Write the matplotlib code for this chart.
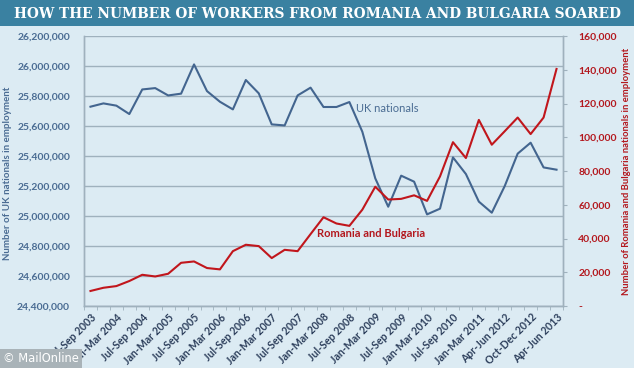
import matplotlib.pyplot as plt
from matplotlib.ticker import FuncFormatter

# quarters on the x axis (one point each)
quarters = ['Jul-Sep 2003', 'Oct-Dec 2003', 'Jan-Mar 2004', 'Apr-Jun 2004', 'Jul-Sep 2004',
            'Oct-Dec 2004', 'Jan-Mar 2005', 'Apr-Jun 2005', 'Jul-Sep 2005', 'Oct-Dec 2005',
            'Jan-Mar 2006', 'Apr-Jun 2006', 'Jul-Sep 2006', 'Oct-Dec 2006', 'Jan-Mar 2007',
            'Apr-Jun 2007', 'Jul-Sep 2007', 'Oct-Dec 2007', 'Jan-Mar 2008', 'Apr-Jun 2008',
            'Jul-Sep 2008', 'Oct-Dec 2008', 'Jan-Mar 2009', 'Apr-Jun 2009', 'Jul-Sep 2009',
            'Oct-Dec 2009', 'Jan-Mar 2010', 'Apr-Jun 2010', 'Jul-Sep 2010', 'Oct-Dec 2010',
            'Jan-Mar 2011', 'Jan-Mar 2012', 'Apr-Jun 2012', 'Jul-Sep 2012', 'Oct-Dec 2012',
            'Jan-Mar 2013', 'Apr-Jun 2013']

# UK nationals in employment (left axis)
uk = [25729000, 25751000, 25736000, 25680000, 25844000, 25853000, 25804000, 25816000,
      26011000, 25833000, 25762000, 25711000, 25907000, 25818000, 25611000, 25604000,
      25804000, 25856000, 25727000, 25727000, 25760000, 25562000, 25251000, 25062000,
      25269000, 25229000, 25011000, 25049000, 25391000, 25280000, 25096000, 25022000,
      25200000, 25416000, 25489000, 25324000, 25309000]

# Romania and Bulgaria nationals in employment (right axis)
rb = [8900, 10800, 11800, 14800, 18500, 17500, 19100, 25600, 26400, 22500, 21700, 32500,
      36300, 35500, 28400, 33300, 32500, 42600, 52600, 48900, 47500, 57100, 70700, 63100,
      63500, 65600, 62300, 76800, 97100, 87700, 110300, 95600, 103600, 111700, 101900,
      111700, 140500]

left_ticks = [24400000, 24600000, 24800000, 25000000, 25200000, 25400000, 25600000,
              25800000, 26000000, 26200000]
right_ticks = [0, 20000, 40000, 60000, 80000, 100000, 120000, 140000, 160000]

bg = '#dcebf3'
blue = '#43658f'
red = '#c1161c'
blue_txt = '#4a6c93'
red_txt = '#b3171d'
grid_c = '#9fb1bd'

fig = plt.figure(figsize=(6.34, 3.68), dpi=100, facecolor=bg)

# title bar
fig.patches.append(plt.Rectangle((0, 0.928), 1, 0.072, transform=fig.transFigure,
                                 facecolor='#3a81a1', edgecolor='none', zorder=0))
fig.text(0.5, 0.963, 'HOW THE NUMBER OF WORKERS FROM ROMANIA AND BULGARIA SOARED',
         ha='center', va='center', color='white', fontsize=9.9, fontweight='bold',
         family='DejaVu Serif')

ax = fig.add_axes([0.1325, 0.1685, 0.7555, 0.7335])
ax.set_facecolor(bg)
ax2 = ax.twinx()

x = list(range(len(quarters)))
ax.plot(x, uk, color=blue, lw=1.5, zorder=3)
ax2.plot(x, rb, color=red, lw=1.5, zorder=3)

ax.set_xlim(-0.5, len(quarters) - 0.5)
ax.set_ylim(24400000, 26200000)
ax2.set_ylim(0, 160000)

ax.set_yticks(left_ticks)
ax.yaxis.set_major_formatter(FuncFormatter(lambda v, p: f'{int(v):,}'))
ax2.set_yticks(right_ticks)
ax2.yaxis.set_major_formatter(FuncFormatter(lambda v, p: '-' if v == 0 else f'{int(v):,}'))

ax.grid(axis='y', color=grid_c, lw=1)
ax.set_axisbelow(True)

# category labels every other quarter, tick marks between categories
ax.set_xticks(x[::2])
ax.set_xticklabels(quarters[::2], rotation=45, ha='right', rotation_mode='anchor',
                   fontsize=7.6, fontweight='bold', color='#2d3f5c', family='Lato')
ax.set_xticks([i - 0.5 for i in range(len(quarters) + 1)], minor=True)
ax.tick_params(axis='x', which='major', length=0, pad=4)
ax.tick_params(axis='x', which='minor', length=3, color=grid_c, direction='out')

ax.tick_params(axis='y', length=0, labelsize=7.5, labelcolor=blue_txt, pad=10)
ax2.tick_params(axis='y', length=3, color=grid_c, labelsize=7.5, labelcolor=red_txt, pad=8)
for lab in ax.get_yticklabels():
    lab.set_fontweight('bold'); lab.set_family('Lato')
for lab in ax2.get_yticklabels():
    lab.set_fontweight('bold'); lab.set_family('Lato')

for a in (ax, ax2):
    a.spines['top'].set_visible(False)
    for s in ('left', 'right', 'bottom'):
        a.spines[s].set_color(grid_c)
        a.spines[s].set_linewidth(1)

ax.set_ylabel('Number of UK nationals in employment', color=blue_txt, fontsize=7,
              fontweight='bold', family='Lato')
ax.yaxis.set_label_coords(-0.15, 0.49)
ax2.set_ylabel('Number of Romania and Bulgaria nationals in employment', color=red_txt,
               fontsize=6.8, fontweight='bold', family='Lato')
ax2.yaxis.set_label_coords(1.123, 0.5)

ax.text(20.5, 25720000, 'UK nationals', color=blue_txt, fontsize=8, family='Lato',
        va='center', ha='left')
ax2.text(17.5, 42700, 'Romania and Bulgaria', color=red_txt, fontsize=8,
         fontweight='bold', family='Lato', va='center', ha='left')

# watermark
fig.text(0.004, 0.025, '\u00a9 MailOnline', color='white', fontsize=8.3, family='DejaVu Sans',
         va='center', ha='left',
         bbox=dict(facecolor='#a9b3b8', edgecolor='none', pad=2.2))

fig.savefig('out.png', dpi=100, facecolor=bg)
